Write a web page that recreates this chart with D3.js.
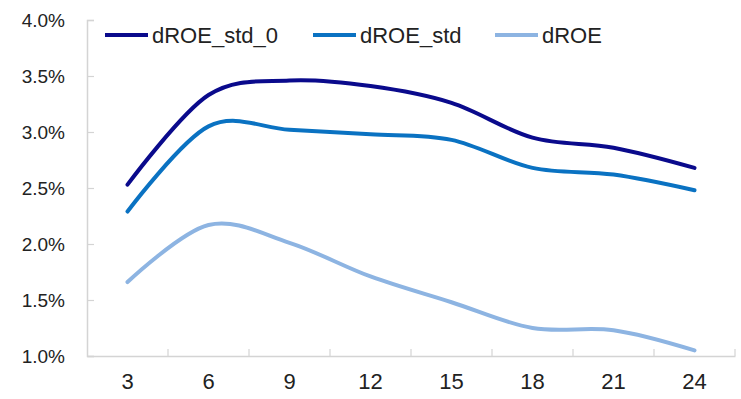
<!DOCTYPE html>
<html>
<head>
<meta charset="utf-8">
<script src="https://cdn.jsdelivr.net/npm/d3@7"></script>
<style>
  html, body { margin: 0; padding: 0; background: #fff; }
  svg { display: block; font-family: Arial, "Liberation Sans", sans-serif; }
</style>
</head>
<body>
<svg id="chart" width="741" height="399"></svg>
<script>
// data
const categories = ['3', '6', '9', '12', '15', '18', '21', '24'];
const dROE_std_0 = [2.53, 3.33, 3.46, 3.41, 3.26, 2.95, 2.86, 2.68];
const dROE_std = [2.29, 3.05, 3.02, 2.98, 2.93, 2.68, 2.62, 2.48];
const dROE = [1.66, 2.17, 2.01, 1.71, 1.48, 1.25, 1.23, 1.05];
const yTicks = [1.0, 1.5, 2.0, 2.5, 3.0, 3.5, 4.0];

const seriesNames = ['dROE_std_0', 'dROE_std', 'dROE'];
const seriesValues = [dROE_std_0, dROE_std, dROE];
const seriesColors = ['#0a0a8c', '#0a72c2', '#8db4e2'];

const width = 741, height = 399;
const margin = { top: 20, right: 6, bottom: 43, left: 87 };

const svg = d3.select('#chart');

const x = d3.scaleBand()
    .domain(categories)
    .range([margin.left, width - margin.right]);

const y = d3.scaleLinear()
    .domain([1, 4])
    .range([height - margin.bottom, margin.top]);

const axisColor = '#d4d4d4';

// y axis
const gy = svg.append('g')
    .attr('transform', `translate(${margin.left},0)`)
    .call(d3.axisLeft(y).tickValues(yTicks).tickSize(-7).tickPadding(22)
        .tickFormat(d => d.toFixed(1) + '%'));
gy.select('.domain').attr('stroke', axisColor).attr('stroke-width', 1.5);
gy.selectAll('.tick line').attr('stroke', axisColor).attr('stroke-width', 1.2);
gy.selectAll('.tick text')
    .attr('font-size', '19px')
    .attr('fill', '#222')
    .attr('font-family', 'Arial, "Liberation Sans", sans-serif');

// x axis: category ticks on band boundaries
const gx = svg.append('g')
    .attr('transform', `translate(0,${height - margin.bottom})`)
    .call(d3.axisBottom(x).tickSize(0).tickPadding(17));
gx.select('.domain').attr('stroke', axisColor).attr('stroke-width', 1.5);
gx.selectAll('.tick text')
    .attr('font-size', '22px')
    .attr('fill', '#222')
    .attr('font-family', 'Arial, "Liberation Sans", sans-serif');

const bounds = categories.map(c => x(c)).concat([x(categories[categories.length - 1]) + x.bandwidth()]);
gx.selectAll('line.cat')
    .data(bounds.slice(1))
    .join('line')
    .attr('class', 'cat')
    .attr('x1', d => d)
    .attr('x2', d => d)
    .attr('y1', 0)
    .attr('y2', -7)
    .attr('stroke', axisColor)
    .attr('stroke-width', 1.2);

// lines
const line = d3.line()
    .x((d, i) => x(categories[i]) + x.bandwidth() / 2)
    .y(d => y(d))
    .curve(d3.curveCardinal.tension(0));

svg.selectAll('path.series')
    .data(seriesValues)
    .join('path')
    .attr('class', 'series')
    .attr('fill', 'none')
    .attr('stroke', (d, i) => seriesColors[i])
    .attr('stroke-width', 4)
    .attr('stroke-linecap', 'round')
    .attr('d', d => line(d));

// legend
const legendX = [105, 313, 495];
const legend = svg.append('g');
seriesNames.forEach((name, i) => {
    const g = legend.append('g').attr('transform', `translate(${legendX[i]},35)`);
    g.append('line')
        .attr('x1', 0).attr('x2', 43)
        .attr('y1', 0).attr('y2', 0)
        .attr('stroke', seriesColors[i])
        .attr('stroke-width', 4);
    g.append('text')
        .attr('x', 47)
        .attr('y', 7.5)
        .attr('font-size', '22px')
        .attr('fill', '#222')
        .text(name);
});
</script>
</body>
</html>
